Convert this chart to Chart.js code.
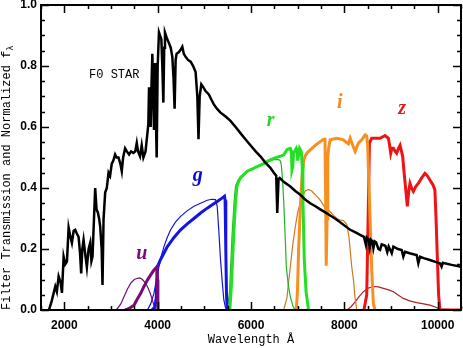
<!DOCTYPE html>
<html>
<head>
<meta charset="utf-8">
<script src="https://cdn.jsdelivr.net/npm/chart.js@4.4.0/dist/chart.umd.min.js"></script>
<style>
  html, body { margin: 0; padding: 0; background: #fff; }
</style>
</head>
<body>
<canvas id="sdss" width="463" height="348"></canvas>
<script>
// F0 star spectrum (normalized f_lambda)
var starWave = [1670, 1730, 1806, 1840, 1878, 1920, 1949, 1985, 2020, 2056, 2092, 2130, 2162, 2200, 2233, 2270, 2305, 2335, 2361, 2385, 2412, 2450, 2483, 2520, 2554, 2580, 2604, 2661, 2690, 2718, 2745, 2768, 2800, 2818, 2840, 2875, 2910, 2947, 2980, 3017, 3050, 3088, 3120, 3160, 3200, 3231, 3260, 3302, 3340, 3388, 3430, 3481, 3520, 3552, 3580, 3622, 3658, 3694, 3740, 3787, 3800, 3815, 3835, 3850, 3870, 3886, 3905, 3921, 3935, 3943, 3960, 3979, 4000, 4028, 4050, 4079, 4100, 4122, 4140, 4157, 4200, 4242, 4280, 4314, 4340, 4363, 4385, 4406, 4450, 4492, 4528, 4560, 4599, 4650, 4706, 4760, 4813, 4850, 4875, 4900, 4935, 4980, 5026, 5097, 5150, 5204, 5270, 5347, 5450, 5560, 5670, 5774, 5880, 5988, 6100, 6201, 6300, 6415, 6490, 6540, 6563, 6590, 6614, 6700, 6842, 6950, 7056, 7160, 7270, 7380, 7484, 7590, 7697, 7800, 7911, 8020, 8125, 8230, 8338, 8420, 8460, 8480, 8520, 8545, 8570, 8600, 8623, 8650, 8680, 8730, 8766, 8800, 8837, 8880, 8920, 8950, 9016, 9051, 9150, 9229, 9264, 9300, 9400, 9500, 9550, 9585, 9621, 9700, 9834, 9950, 10048, 10084, 10110, 10155, 10300, 10500];
var starFlux = [0.0, 0.03, 0.077, 0.06, 0.11, 0.09, 0.056, 0.175, 0.15, 0.159, 0.27, 0.24, 0.22, 0.26, 0.263, 0.25, 0.24, 0.19, 0.12, 0.2, 0.23, 0.18, 0.14, 0.2, 0.22, 0.16, 0.175, 0.40, 0.33, 0.32, 0.30, 0.274, 0.2, 0.082, 0.296, 0.385, 0.40, 0.45, 0.44, 0.48, 0.49, 0.51, 0.5, 0.50, 0.48, 0.455, 0.5, 0.53, 0.52, 0.51, 0.52, 0.515, 0.52, 0.548, 0.52, 0.504, 0.54, 0.50, 0.52, 0.59, 0.61, 0.73, 0.65, 0.60, 0.75, 0.84, 0.72, 0.59, 0.70, 0.81, 0.65, 0.50, 0.80, 0.91, 0.90, 0.888, 0.80, 0.68, 0.86, 0.91, 0.89, 0.875, 0.86, 0.83, 0.76, 0.66, 0.82, 0.84, 0.845, 0.853, 0.863, 0.84, 0.83, 0.82, 0.814, 0.80, 0.78, 0.70, 0.56, 0.70, 0.74, 0.73, 0.718, 0.707, 0.69, 0.674, 0.66, 0.647, 0.635, 0.62, 0.60, 0.58, 0.56, 0.54, 0.52, 0.504, 0.485, 0.466, 0.45, 0.44, 0.318, 0.43, 0.433, 0.42, 0.405, 0.39, 0.378, 0.362, 0.35, 0.34, 0.33, 0.32, 0.31, 0.30, 0.288, 0.275, 0.263, 0.255, 0.246, 0.24, 0.215, 0.238, 0.232, 0.205, 0.23, 0.225, 0.203, 0.225, 0.222, 0.20, 0.197, 0.215, 0.213, 0.21, 0.19, 0.208, 0.186, 0.208, 0.2, 0.197, 0.175, 0.191, 0.186, 0.182, 0.18, 0.153, 0.175, 0.17, 0.164, 0.158, 0.153, 0.142, 0.155, 0.153, 0.148, 0.142];

// filter curves: thick and thin
var uWave = [3300, 3352, 3420, 3494, 3560, 3637, 3710, 3780, 3850, 3921, 3985, 3995, 4005];
var uThick = [0, 0.003, 0.008, 0.016, 0.035, 0.055, 0.078, 0.098, 0.115, 0.131, 0.142, 0.10, 0];
var uWave2 = [3100, 3139, 3210, 3281, 3350, 3423, 3500, 3566, 3620, 3673, 3730, 3780, 3840, 3886, 3930, 3960];
var uThin = [0, 0.005, 0.02, 0.044, 0.068, 0.088, 0.10, 0.104, 0.105, 0.10, 0.09, 0.077, 0.055, 0.033, 0.01, 0];

var gWave = [3880, 3940, 3970, 3990, 4060, 4130, 4208, 4350, 4492, 4640, 4777, 4920, 5062, 5170, 5276, 5370, 5432, 5445, 5460, 5475, 5490];
var gThick = [0, 0.01, 0.04, 0.14, 0.165, 0.185, 0.208, 0.238, 0.263, 0.283, 0.30, 0.318, 0.334, 0.345, 0.356, 0.366, 0.373, 0.36, 0.2, 0.05, 0];
var gWave2 = [3780, 3850, 3921, 3975, 4028, 4080, 4135, 4200, 4278, 4380, 4492, 4630, 4777, 4920, 5062, 5160, 5240, 5276, 5310, 5347, 5385, 5418, 5450, 5475];
var gThin = [0, 0.02, 0.055, 0.10, 0.142, 0.178, 0.208, 0.236, 0.263, 0.288, 0.307, 0.325, 0.34, 0.35, 0.36, 0.363, 0.362, 0.34, 0.26, 0.164, 0.09, 0.033, 0.01, 0];

var rWave = [5546, 5580, 5631, 5670, 5703, 5774, 5917, 6020, 6131, 6273, 6380, 6487, 6600, 6700, 6772, 6842, 6865, 6878, 6895, 6914, 6971, 6990, 7000, 7020, 7041, 7077, 7095, 7113, 7142, 7180, 7233];
var rThick = [0, 0.08, 0.252, 0.36, 0.41, 0.433, 0.455, 0.462, 0.47, 0.48, 0.49, 0.497, 0.503, 0.508, 0.526, 0.53, 0.52, 0.46, 0.47, 0.515, 0.53, 0.52, 0.49, 0.51, 0.53, 0.52, 0.48, 0.36, 0.164, 0.06, 0];
var rWave2 = [5490, 5540, 5596, 5640, 5667, 5720, 5774, 5900, 6050, 6200, 6350, 6487, 6593, 6630, 6650, 6675, 6700, 6730, 6757, 6800, 6842, 6900, 6950];
var rThin = [0, 0.06, 0.25, 0.36, 0.405, 0.425, 0.437, 0.452, 0.465, 0.475, 0.485, 0.493, 0.493, 0.488, 0.475, 0.43, 0.36, 0.25, 0.142, 0.08, 0.044, 0.012, 0];

var iWave = [6971, 6995, 7020, 7055, 7092, 7130, 7163, 7199, 7270, 7377, 7484, 7555, 7585, 7598, 7612, 7630, 7645, 7662, 7697, 7840, 7982, 8040, 8089, 8125, 8180, 8232, 8303, 8374, 8446, 8481, 8500, 8530, 8552, 8590, 8623, 8660];
var iThick = [0, 0.06, 0.197, 0.33, 0.437, 0.49, 0.505, 0.515, 0.525, 0.54, 0.552, 0.56, 0.56, 0.4, 0.145, 0.3, 0.5, 0.53, 0.558, 0.563, 0.558, 0.55, 0.545, 0.563, 0.54, 0.52, 0.548, 0.558, 0.574, 0.57, 0.54, 0.40, 0.295, 0.12, 0.02, 0];
var iWave2 = [6700, 6770, 6842, 6900, 6950, 7000, 7056, 7110, 7163, 7230, 7300, 7377, 7484, 7591, 7697, 7770, 7840, 7911, 7982, 8054, 8100, 8125, 8160, 8196, 8230, 8267];
var iThin = [0, 0.04, 0.142, 0.22, 0.273, 0.32, 0.35, 0.375, 0.39, 0.395, 0.39, 0.378, 0.36, 0.334, 0.322, 0.31, 0.30, 0.295, 0.293, 0.28, 0.24, 0.197, 0.14, 0.098, 0.04, 0];

var zWave = [8420, 8480, 8510, 8538, 8587, 8680, 8766, 8873, 8944, 8970, 8994, 9020, 9051, 9090, 9122, 9160, 9194, 9225, 9250, 9275, 9300, 9325, 9350, 9380, 9407, 9440, 9479, 9530, 9585, 9657, 9728, 9780, 9834, 9900, 9941, 9965, 9990, 10020, 10048, 10500];
var zThick = [0, 0.05, 0.3, 0.548, 0.563, 0.563, 0.563, 0.572, 0.563, 0.54, 0.514, 0.53, 0.53, 0.52, 0.514, 0.53, 0.54, 0.52, 0.504, 0.46, 0.42, 0.38, 0.34, 0.39, 0.415, 0.40, 0.389, 0.405, 0.415, 0.433, 0.448, 0.44, 0.426, 0.41, 0.394, 0.3, 0.186, 0.05, 0, 0];
var zWave2 = [8054, 8140, 8232, 8320, 8409, 8520, 8623, 8730, 8837, 8950, 9051, 9160, 9264, 9400, 9550, 9700, 9834, 9950, 10048, 10300, 10500];
var zThin = [0, 0.01, 0.027, 0.045, 0.06, 0.072, 0.077, 0.076, 0.071, 0.066, 0.06, 0.048, 0.038, 0.03, 0.024, 0.02, 0.016, 0.01, 0.003, 0.001, 0];

var xTicks = [2000, 4000, 6000, 8000, 10000];
var yTicks = [0.0, 0.2, 0.4, 0.6, 0.8, 1.0];

function pts(w, v) {
    return w.map(function (x, i) { return { x: x, y: v[i] }; });
}

function line(label, w, v, color, width) {
    return {
        label: label,
        data: pts(w, v),
        borderColor: color,
        backgroundColor: color,
        borderWidth: width,
        pointRadius: 0,
        fill: false,
        tension: 0,
    };
}

// labels drawn on the plot, in data coordinates
var notes = [
    { text: "F0 STAR", x: 3070, y: 0.77, color: "#000", font: '12px "Liberation Mono"' },
    { text: "u", x: 3660, y: 0.185, color: "#7a0a7a", font: 'italic bold 20px "Liberation Serif"' },
    { text: "g", x: 4860, y: 0.44, color: "#0a0ad0", font: 'italic bold 20px "Liberation Serif"' },
    { text: "r", x: 6420, y: 0.62, color: "#2ad42a", font: 'italic bold 20px "Liberation Serif"' },
    { text: "i", x: 7900, y: 0.68, color: "#ee8a22", font: 'italic bold 20px "Liberation Serif"' },
    { text: "z", x: 9240, y: 0.66, color: "#e02020", font: 'italic bold 20px "Liberation Serif"' },
];

const framePlugin = {
    id: "frame",
    afterDatasetsDraw(chart) {
        const { ctx, chartArea: a, scales } = chart;
        const x = scales.x, y = scales.y;
        ctx.save();
        ctx.strokeStyle = "#000";
        ctx.lineWidth = 2;
        ctx.strokeRect(a.left, a.top, a.right - a.left, a.bottom - a.top);

        // inward ticks on all four sides
        ctx.lineWidth = 1.5;
        ctx.beginPath();
        for (let v = 1500; v <= 10500; v += 500) {
            const p = Math.round(x.getPixelForValue(v)) + 0.5;
            const len = v % 2000 === 0 ? 8 : 4;
            ctx.moveTo(p, a.bottom); ctx.lineTo(p, a.bottom - len);
            ctx.moveTo(p, a.top); ctx.lineTo(p, a.top + len);
        }
        for (let k = 0; k <= 20; k++) {
            const p = Math.round(y.getPixelForValue(k * 0.05)) + 0.5;
            const len = k % 4 === 0 ? 8 : 4;
            ctx.moveTo(a.left, p); ctx.lineTo(a.left + len, p);
            ctx.moveTo(a.right, p); ctx.lineTo(a.right - len, p);
        }
        ctx.stroke();

        ctx.textAlign = "center";
        ctx.textBaseline = "middle";
        notes.forEach(function (n) {
            ctx.font = n.font;
            ctx.fillStyle = n.color;
            ctx.fillText(n.text, x.getPixelForValue(n.x), y.getPixelForValue(n.y));
        });
        ctx.restore();
    },
    afterDraw(chart) {
        // y title with a subscript lambda
        const ctx = chart.ctx;
        const main = "Filter Transmission and Normalized f";
        ctx.save();
        ctx.translate(10, chart.chartArea.bottom);
        ctx.rotate(-Math.PI / 2);
        ctx.fillStyle = "#000";
        ctx.textAlign = "left";
        ctx.textBaseline = "alphabetic";
        ctx.font = '12px "Liberation Mono"';
        ctx.fillText(main, 0, 0);
        const w = ctx.measureText(main).width;
        ctx.font = '9px "Liberation Mono"';
        ctx.fillText("\u03bb", w, 3);
        ctx.restore();
    },
};

new Chart(document.getElementById("sdss"), {
    type: "line",
    data: {
        datasets: [
            line("F0 star", starWave, starFlux, "#000000", 2.5),
            line("u", uWave, uThick, "#7a0a7a", 3),
            line("g", gWave, gThick, "#1414e6", 3),
            line("r", rWave, rThick, "#22e022", 3),
            line("i", iWave, iThick, "#f7901e", 3),
            line("z", zWave, zThick, "#ee1414", 3),
            line("u thin", uWave2, uThin, "#7a0a7a", 1.2),
            line("g thin", gWave2, gThin, "#1414d8", 1.2),
            line("r thin", rWave2, rThin, "#22b422", 1.2),
            line("i thin", iWave2, iThin, "#cc7a22", 1.2),
            line("z thin", zWave2, zThin, "#b41e1e", 1.2),
        ],
    },
    options: {
        responsive: false,
        animation: false,
        layout: { padding: { top: 5, right: 2, left: 0, bottom: 0 } },
        plugins: {
            legend: { display: false },
            tooltip: { enabled: false },
        },
        scales: {
            x: {
                type: "linear",
                min: 1500,
                max: 10500,
                grid: { display: false, drawTicks: false },
                border: { display: false },
                afterBuildTicks: function (s) {
                    s.ticks = xTicks.map(function (v) { return { value: v }; });
                },
                afterFit: function (s) {
                    s.height = 38;
                    s.paddingLeft = 0;
                    s.paddingRight = 0;
                },
                ticks: {
                    padding: 8,
                    maxRotation: 0,
                    color: "#000",
                    font: { family: "Liberation Sans", size: 12, weight: "bold" },
                    callback: function (v) { return String(v); },
                },
                title: {
                    display: true,
                    text: "Wavelength Å",
                    color: "#000",
                    font: { family: "Liberation Mono", size: 12 },
                    padding: { top: 0, bottom: 1 },
                },
            },
            y: {
                min: 0,
                max: 1.0,
                grid: { display: false, drawTicks: false },
                border: { display: false },
                afterBuildTicks: function (s) {
                    s.ticks = yTicks.map(function (v) { return { value: v }; });
                },
                afterFit: function (s) {
                    s.width = 41;
                    s.paddingTop = 0;
                    s.paddingBottom = 0;
                },
                ticks: {
                    padding: 4,
                    color: "#000",
                    font: { family: "Liberation Sans", size: 12, weight: "bold" },
                    callback: function (v) { return v.toFixed(1); },
                },
            },
        },
    },
    plugins: [framePlugin],
});
</script>
</body>
</html>
